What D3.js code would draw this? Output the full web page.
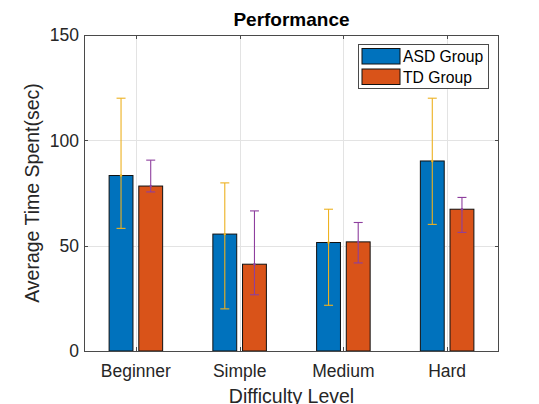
<!DOCTYPE html>
<html>
<head>
<meta charset="utf-8">
<script src="https://cdn.jsdelivr.net/npm/d3@7"></script>
<style>
  html, body { margin: 0; padding: 0; background: #fff; }
  svg { display: block; font-family: "Liberation Sans", Arial, Helvetica, sans-serif; }
</style>
</head>
<body>
<svg id="chart" width="539" height="404"></svg>
<script>
// Difficulty levels and group results (mean time with error bounds, seconds)
const categories = ["Beginner", "Simple", "Medium", "Hard"];
const seriesNames = ["ASD Group", "TD Group"];
const asdMean = [83.3, 55.5, 51.5, 90.2];
const tdMean  = [78.3, 41.2, 51.8, 67.3];
const asdLow  = [58.2, 20.0, 21.7, 60.1];
const asdHigh = [120.0, 79.8, 67.3, 120.0];
const tdLow   = [75.5, 26.7, 41.8, 56.3];
const tdHigh  = [90.6, 66.5, 61.0, 72.9];
const yTicks  = [0, 50, 100, 150];

const barColors = ["#0072BD", "#D95319"];
const errColors = ["#EDB120", "#8E3F9E"];

const svg = d3.select("#chart");
const m = { left: 84, right: 499, top: 35, bottom: 351 };

const x = d3.scaleLinear().domain([0.5, 4.5]).range([m.left, m.right]);
const y = d3.scaleLinear().domain([0, 150]).range([m.bottom, m.top]);

const offsets = [-0.143, 0.143];
const barW = 0.23;

// grid lines
const grid = svg.append("g").attr("stroke", "#e3e3e3").attr("stroke-width", 1);
yTicks.slice(1, -1).forEach(t => {
  grid.append("line").attr("x1", m.left).attr("x2", m.right)
    .attr("y1", Math.round(y(t)) + 0.5).attr("y2", Math.round(y(t)) + 0.5);
});
categories.forEach((c, i) => {
  grid.append("line").attr("y1", m.top).attr("y2", m.bottom)
    .attr("x1", Math.round(x(i + 1)) + 0.5).attr("x2", Math.round(x(i + 1)) + 0.5);
});

// bars
const series = [
  { mean: asdMean, low: asdLow, high: asdHigh },
  { mean: tdMean, low: tdLow, high: tdHigh }
];
series.forEach((s, si) => {
  svg.append("g").selectAll("rect").data(categories).join("rect")
    .attr("x", (d, i) => x(i + 1 + offsets[si] - barW / 2))
    .attr("width", x(barW) - x(0))
    .attr("y", (d, i) => y(s.mean[i]))
    .attr("height", (d, i) => y(0) - y(s.mean[i]))
    .attr("fill", barColors[si])
    .attr("stroke", "#111")
    .attr("stroke-width", 1);
});

// error bars
series.forEach((s, si) => {
  const g = svg.append("g").attr("stroke", errColors[si]).attr("stroke-width", 1.1);
  categories.forEach((c, i) => {
    const cx = x(i + 1 + offsets[si]);
    g.append("line").attr("x1", cx).attr("x2", cx)
      .attr("y1", y(s.low[i])).attr("y2", y(s.high[i]));
    [s.low[i], s.high[i]].forEach(v => {
      g.append("line").attr("x1", cx - 4.5).attr("x2", cx + 4.5)
        .attr("y1", y(v)).attr("y2", y(v));
    });
    g.append("circle").attr("cx", cx).attr("cy", y(s.mean[i])).attr("r", 1.2)
      .attr("fill", errColors[si]).attr("stroke", "none");
  });
});

// axes box with inward ticks
const axisColor = "#4a4a4a";
svg.append("rect").attr("x", m.left + 0.5).attr("y", m.top + 0.5)
  .attr("width", m.right - m.left - 1).attr("height", m.bottom - m.top)
  .attr("fill", "none").attr("stroke", axisColor).attr("stroke-width", 1);

const ticks = svg.append("g").attr("stroke", axisColor).attr("stroke-width", 1);
yTicks.forEach(t => {
  const yy = Math.round(y(t)) + 0.5;
  ticks.append("line").attr("x1", m.left).attr("x2", m.left + 4).attr("y1", yy).attr("y2", yy);
  ticks.append("line").attr("x1", m.right - 4).attr("x2", m.right).attr("y1", yy).attr("y2", yy);
});
categories.forEach((c, i) => {
  const xx = Math.round(x(i + 1)) + 0.5;
  ticks.append("line").attr("x1", xx).attr("x2", xx).attr("y1", m.bottom).attr("y2", m.bottom - 4);
  ticks.append("line").attr("x1", xx).attr("x2", xx).attr("y1", m.top).attr("y2", m.top + 4);
});

// tick labels
svg.append("g").selectAll("text").data(yTicks).join("text")
  .attr("x", m.left - 5).attr("y", d => y(d)).attr("dy", "0.36em")
  .attr("text-anchor", "end").attr("font-size", 17.5).attr("fill", "#262626")
  .text(d => d);
svg.append("g").selectAll("text").data(categories).join("text")
  .attr("x", (d, i) => x(i + 1)).attr("y", 377)
  .attr("text-anchor", "middle").attr("font-size", 17.5).attr("fill", "#262626")
  .text(d => d);

// axis labels and title
svg.append("text").attr("x", (m.left + m.right) / 2).attr("y", 403)
  .attr("text-anchor", "middle").attr("font-size", 19.5).attr("fill", "#262626")
  .text("Difficulty Level");
svg.append("text")
  .attr("transform", `translate(39,${(m.top + m.bottom) / 2}) rotate(-90)`)
  .attr("text-anchor", "middle").attr("font-size", 19.5).attr("fill", "#262626")
  .text("Average Time Spent(sec)");
svg.append("text").attr("x", (m.left + m.right) / 2).attr("y", 26)
  .attr("text-anchor", "middle").attr("font-size", 19).attr("font-weight", "bold")
  .attr("fill", "#000").text("Performance");

// legend
const lg = svg.append("g");
lg.append("rect").attr("x", 358.5).attr("y", 44.5).attr("width", 130).attr("height", 44)
  .attr("fill", "#fff").attr("stroke", axisColor).attr("stroke-width", 1);
seriesNames.forEach((name, i) => {
  const ry = 48.5 + i * 20.5;
  lg.append("rect").attr("x", 362).attr("y", ry).attr("width", 38).attr("height", 15.5)
    .attr("fill", barColors[i]).attr("stroke", "#111").attr("stroke-width", 1);
  lg.append("text").attr("x", 403).attr("y", ry + 13.5)
    .attr("font-size", 15.7).attr("fill", "#000").text(name);
});
</script>
</body>
</html>
